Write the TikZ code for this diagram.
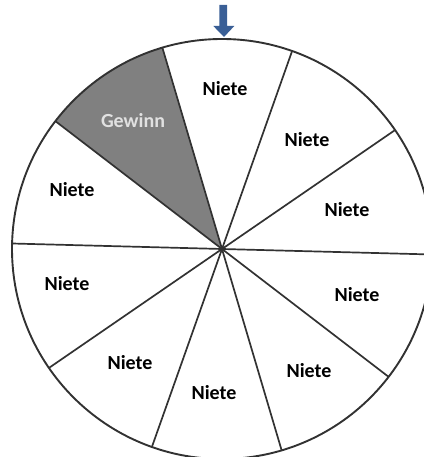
\documentclass[tikz,border=0pt]{standalone}
\usepackage{fontspec}
\setmainfont{Carlito}
\usetikzlibrary{calc}
\definecolor{rimline}{RGB}{50,50,50}
\definecolor{wingray}{RGB}{128,128,128}
\definecolor{wintext}{RGB}{225,225,225}
\definecolor{arrowblue}{RGB}{58,95,150}
\begin{document}
\begin{tikzpicture}[x=1pt,y=1pt,
  rim/.style={draw=rimline,line width=1.9pt},
  spoke/.style={draw=rimline,line width=1.7pt},
  lbl/.style={font=\fontsize{20}{20}\selectfont\bfseries,text=black,inner sep=0pt},
  winlbl/.style={lbl,text=wintext}]
\useasboundingbox (0,0) rectangle (423,457);
\coordinate (c) at (222,208);
\def\R{210}
% Gewinn sector
\fill[wingray] (c) -- ++(106.5:\R) arc[start angle=106.5,end angle=142.5,radius=\R] -- cycle;
\draw[rim] (c) circle[radius=\R];
\foreach \i in {0,...,9}{
  \coordinate (p\i) at ($(c)+({-1.5+36*\i}:\R)$);
}
\foreach \i in {0,...,9}{
  \draw[spoke] (c) -- (p\i);
}
\fill[rimline] (c) circle[radius=2pt];
% labels
\node[lbl] (n1) at (225,368) {Niete};
\node[lbl] (n2) at (307,317) {Niete};
\node[lbl] (n3) at (347,247) {Niete};
\node[winlbl] (g) at (133,336) {Gewinn};
\node[lbl] (n4) at (72,267) {Niete};
\node[lbl] (n5) at (67,173) {Niete};
\node[lbl] (n6) at (357,162) {Niete};
\node[lbl] (n7) at (130,94) {Niete};
\node[lbl] (n8) at (309,86) {Niete};
\node[lbl] (n9) at (214,64) {Niete};
% pointer arrow
\fill[arrowblue] (219.3,452) -- (227,452) -- (227,431) -- (234.3,431) -- (224,420) -- (213.3,431) -- (219.3,431) -- cycle;
\end{tikzpicture}
\end{document}
